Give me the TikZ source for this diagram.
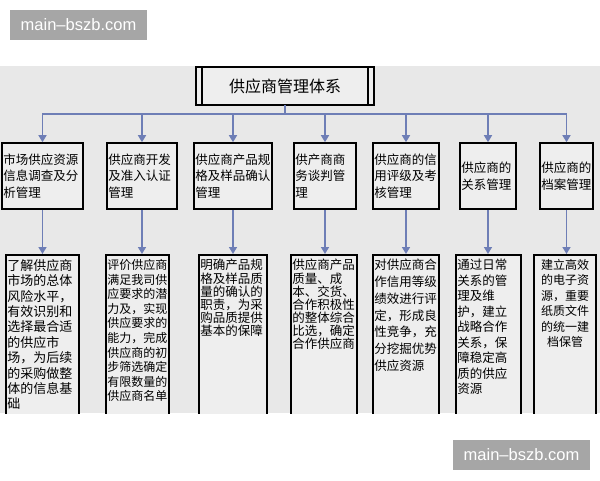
\documentclass[tikz,border=0pt]{standalone}
\usepackage{fontspec}
\newfontfamily\cjk{Noto Sans CJK SC}
\newfontfamily\wmfont{Liberation Sans}
\usetikzlibrary{arrows.meta}
\definecolor{bggray}{RGB}{232,232,232}
\definecolor{boxgray}{RGB}{238,238,238}
\definecolor{linkblue}{RGB}{110,126,182}
\definecolor{wmgray}{RGB}{166,166,166}
\newcommand{\dsize}[2]{\cjk\fontsize{#1}{#2}\selectfont}
\newcommand{\downtext}[2]{\parbox[c][164pt][t]{#1}{\raggedright #2}}

\begin{document}
\begin{tikzpicture}[x=1pt,y=-1pt,
	head/.style={draw, line width=1.6pt, fill=boxgray, minimum height=66pt, inner xsep=1.5pt, align=left, font=\dsize{12.5}{16.5}},
	detail/.style={draw, line width=1.6pt, fill=boxgray, anchor=north, inner xsep=1.5pt, inner ysep=4.5pt},
	link/.style={draw=linkblue, line width=1.5pt, -{Triangle[width=8pt,length=7pt]}},
	bus/.style={draw=linkblue, line width=1.5pt, line cap=rect},
	wmark/.style={fill=wmgray, text=white, minimum width=137pt, minimum height=30pt, inner sep=0pt, font=\wmfont\fontsize{16.5}{18}\selectfont}]
			\fill[white] (0,0) rectangle (600,480);
			\useasboundingbox (0,0) rectangle (600,480);
			\fill[bggray] (0,66) rectangle (600,413);
			\begin{scope}
			\clip (0,66) rectangle (600,413);
			\node at (285,86) (top) [draw, line width=1.6pt, fill=boxgray, minimum width=178pt, minimum height=38pt, font=\dsize{16}{18}] {供应商管理体系};
			\draw[line width=1.6pt] ([xshift=7pt]top.north west) -- ([xshift=7pt]top.south west);
			\draw[line width=1.6pt] ([xshift=-7pt]top.north east) -- ([xshift=-7pt]top.south east);
			% first row
			\node at (42.5,176) (h1) [head, text width=78.4pt] {市场供应资源\\信息调查及分\\析管理};
			\node at (142,176) (h2) [head, text width=67.4pt] {供应商开发\\及准入认证\\管理};
			\node at (233,176) (h3) [head, text width=75.4pt] {供应商产品规\\格及样品确认\\管理};
			\node at (325,176) (h4) [head, text width=59.4pt] {供产商商\\务谈判管\\理};
			\node at (406,176) (h5) [head, text width=63.4pt] {供应商的信\\用评级及考\\核管理};
			\node at (488,176) (h6) [head, text width=53.4pt] {供应商的\\关系管理};
			\node at (566.5,176) (h7) [head, text width=50.4pt] {供应商的\\档案管理};
			% second row, cut off at the bottom
			\node at (42.5,254) (d1) [detail, font=\dsize{13}{15.4}] {\downtext{70.4pt}{了解供应商\\市场的总体\\风险水平，\\有效识别和\\选择最合适\\的供应市\\场，为后续\\的采购做整\\体的信息基\\础}};
			\node at (137.5,254) (d2) [detail, font=\dsize{12}{14.6}] {\downtext{60.4pt}{评价供应商\\满足我司供\\应要求的潜\\力及，实现\\供应要求的\\能力，完成\\供应商的初\\步筛选确定\\有限数量的\\供应商名单}};
			\node at (233,254) (d3) [detail, font=\dsize{12.5}{13.2}] {\downtext{65.4pt}{明确产品规\\格及样品质\\量的确认的\\职责，为采\\购品质提供\\基本的保障}};
			\node at (324,254) (d4) [detail, font=\dsize{12.5}{13.1}] {\downtext{63.4pt}{供应商产品\\质量、成\\本、交货、\\合作积极性\\的整体综合\\比选，确定\\合作供应商}};
			\node at (406,254) (d5) [detail, font=\dsize{12.5}{16.7}] {\downtext{63.4pt}{对供应商合\\作信用等级\\绩效进行评\\定，形成良\\性竞争，充\\分挖掘优势\\供应资源}};
			\node at (488.5,254) (d6) [detail, font=\dsize{12.5}{15.5}] {\downtext{62.4pt}{通过日常\\关系的管\\理及维\\护，建立\\战略合作\\关系，保\\障稳定高\\质的供应\\资源}};
			\node at (565,254) (d7) [detail, font=\dsize{12}{15.5}] {\downtext{59.4pt}{\centering 建立高效\\的电子资\\源，重要\\纸质文件\\的统一建\\档保管}};
			% connectors
			\coordinate (bus) at (0,114);
			\draw[bus] (top.south) -- (top.south |- bus);
			\draw[bus] (h1.north |- bus) -- (h7.north |- bus);
			\foreach \i in {1,...,7} {
				\draw[link] (h\i.north |- bus) -- (h\i.north);
				\draw[link] (h\i.south) -- (h\i.south |- d\i.north);
			}
			\end{scope}
			\node at (78.5,25) (wm1) [wmark] {main–bszb.com};
			\node at (521.5,455) (wm2) [wmark] {main–bszb.com};
\end{tikzpicture}
\end{document}
